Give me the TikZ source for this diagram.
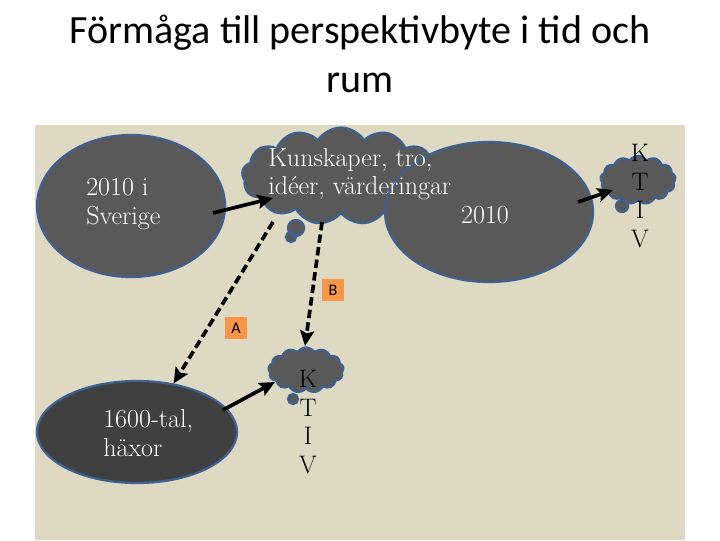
\documentclass[tikz,border=0pt]{standalone}
\usepackage{fontspec}
\newfontfamily\titelfont{Carlito}
\usetikzlibrary{arrows.meta, shapes.geometric, shapes.symbols}

\definecolor{bakgrund}{HTML}{DDD9C3}
\definecolor{morkgra}{HTML}{595959}
\definecolor{morkare}{HTML}{404040}
\definecolor{kantbla}{HTML}{41608E}
\definecolor{etikett}{HTML}{F79646}

\begin{document}
\begin{tikzpicture}[x=0.025cm, y=-0.025cm,
  every node/.style={inner sep=0pt},
  bubbla/.style={ellipse, draw=kantbla, line width=1.6pt, fill=morkgra},
  moln/.style={cloud, cloud puffs=13, cloud puff arc=115, aspect=2,
               draw=kantbla, line width=1.6pt, fill=morkgra},
  svans/.style={fill=morkgra, draw=kantbla, line width=1.6pt},
  vit/.style={text=white, align=left, font=\fontsize{18.5}{20.3}\selectfont},
  ktiv/.style={align=center, font=\fontsize{18}{20.5}\selectfont},
  pil/.style={-{Stealth[length=11pt, width=10pt, inset=2pt]}, line width=2.6pt},
  streckpil/.style={pil, dash pattern=on 6pt off 3pt},
  ruta/.style={fill=etikett, minimum size=16pt, font=\titelfont\fontsize{11.5}{12}\selectfont}]

  \def\px{0.025cm}

  % page and slide area
  \useasboundingbox (0,0) rectangle (720,540);
  \fill[bakgrund] (35,125) rectangle (685,540);

  % title
  \node[align=center, font=\titelfont\fontsize{28.5}{34.7}\selectfont] (rubrik) at (360,54)
    {Förmåga till perspektivbyte i tid och\\rum};

  % clouds (with their small tail blobs)
  \node[moln, minimum width=198*\px, minimum height=97*\px] (kunskap) at (341,176) {};
  \filldraw[svans] (296,228) circle (8) (291,237) circle (5);
  \node[moln, minimum width=75*\px, minimum height=48*\px] (hogermoln) at (638,180) {};
  \filldraw[svans] (622,206) circle (6);
  \node[moln, minimum width=75*\px, minimum height=45*\px] (nedremoln) at (306,370) {};
  \filldraw[svans] (293,399) circle (5);

  % ellipses
  \node[bubbla, minimum width=188*\px, minimum height=142*\px] (sverige) at (131,206) {};
  \node[bubbla, minimum width=208*\px, minimum height=140*\px] (nu) at (489,212) {};
  \node[bubbla, fill=morkare, minimum width=200*\px, minimum height=102*\px] (haxor) at (137,432) {};

  % texts
  \node[vit, anchor=west] (sverigetext) at (86,204) {\oldstylenums{2010} i\\Sverige};
  \node[vit, anchor=west] (kunskaptext) at (268,174) {Kunskaper, tro,\\idéer, värderingar};
  \node[vit] (nutext) at (485,215) {\oldstylenums{2010}};
  \node[vit, anchor=west] (haxortext) at (103,433) {\oldstylenums{1600}-tal,\\häxor};
  \node[ktiv] (ktivhoger) at (640,196) {K\\T\\I\\V};
  \node[ktiv] (ktivnedre) at (308,422) {K\\T\\I\\V};

  % labels
  \node[ruta] (etikettA) at (236,328) {A};
  \node[ruta] (etikettB) at (333,290) {B};

  % connectors
  \draw[pil] ([shift={(82,7)}]sverige.center) -- ([shift={(-68,22)}]kunskap.center);
  \draw[pil] ([shift={(86,-22)}]haxor.center) -- ([shift={(-31,12)}]nedremoln.center);
  \draw[pil] ([shift={(89,-10)}]nu.center) -- ([shift={(-25,10)}]hogermoln.center);
  \draw[streckpil] ([shift={(-68,46)}]kunskap.center) -- (haxor.53);
  \draw[streckpil] ([shift={(-19,46)}]kunskap.center) -- ([shift={(-1,-24)}]nedremoln.center);

\end{tikzpicture}
\end{document}
